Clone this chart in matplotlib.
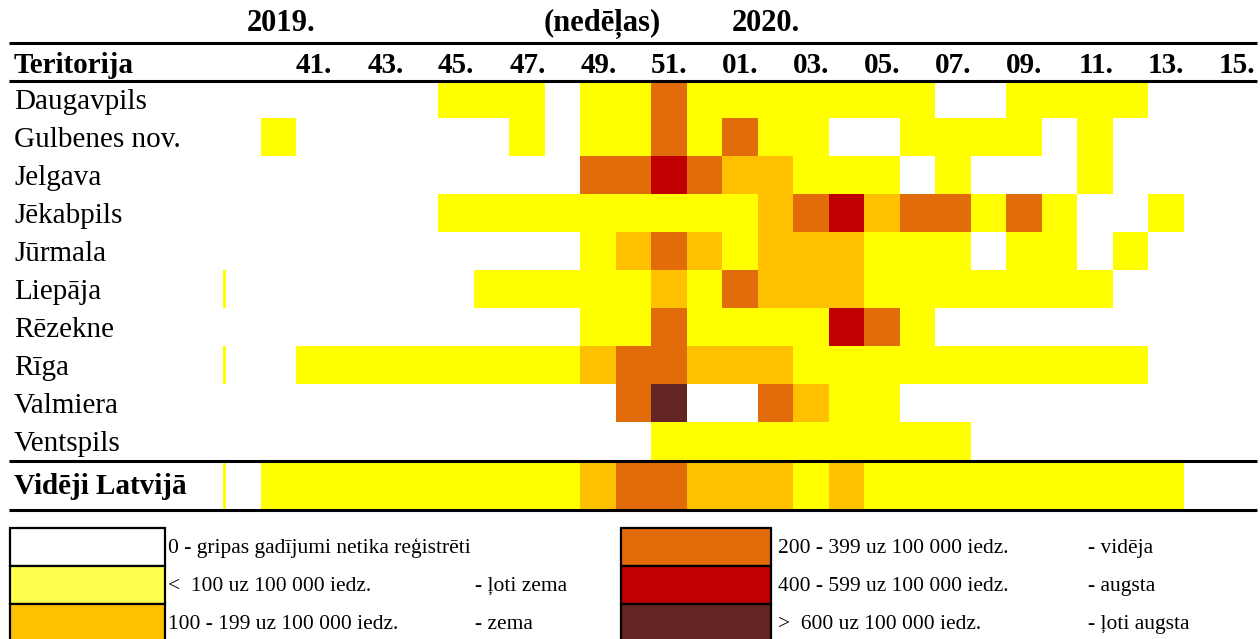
import matplotlib.pyplot as plt
from matplotlib.colors import ListedColormap
from matplotlib.patches import Rectangle
import numpy as np

plt.rcParams['font.family'] = ['Liberation Serif', 'DejaVu Serif']

# weeks: 2019 w39..w52, 2020 w1..w15
weeks = list(range(39, 53)) + list(range(1, 16))
week_labels = ['41.', '43.', '45.', '47.', '49.', '51.', '01.', '03.', '05.',
               '07.', '09.', '11.', '13.', '15.']

territories = ['Daugavpils', 'Gulbenes nov.', 'Jelgava', 'Jēkabpils', 'Jūrmala',
               'Liepāja', 'Rēzekne', 'Rīga', 'Valmiera', 'Ventspils', 'Vidēji Latvijā']

# intensity level per week (0 = none ... 5 = very high)
daugavpils = [0, 0, 0, 0, 0, 0, 1, 1, 1, 0, 1, 1, 3, 1, 1, 1, 1, 1, 1, 1, 0, 0, 1, 1, 1, 1, 0, 0, 0]
gulbenes = [0, 1, 0, 0, 0, 0, 0, 0, 1, 0, 1, 1, 3, 1, 3, 1, 1, 0, 0, 1, 1, 1, 1, 0, 1, 0, 0, 0, 0]
jelgava = [0, 0, 0, 0, 0, 0, 0, 0, 0, 0, 3, 3, 4, 3, 2, 2, 1, 1, 1, 0, 1, 0, 0, 0, 1, 0, 0, 0, 0]
jekabpils = [0, 0, 0, 0, 0, 0, 1, 1, 1, 1, 1, 1, 1, 1, 1, 2, 3, 4, 2, 3, 3, 1, 3, 1, 0, 0, 1, 0, 0]
jurmala = [0, 0, 0, 0, 0, 0, 0, 0, 0, 0, 1, 2, 3, 2, 1, 2, 2, 2, 1, 1, 1, 0, 1, 1, 0, 1, 0, 0, 0]
liepaja = [0, 0, 0, 0, 0, 0, 0, 1, 1, 1, 1, 1, 2, 1, 3, 2, 2, 2, 1, 1, 1, 1, 1, 1, 1, 0, 0, 0, 0]
rezekne = [0, 0, 0, 0, 0, 0, 0, 0, 0, 0, 1, 1, 3, 1, 1, 1, 1, 4, 3, 1, 0, 0, 0, 0, 0, 0, 0, 0, 0]
riga = [0, 0, 1, 1, 1, 1, 1, 1, 1, 1, 2, 3, 3, 2, 2, 2, 1, 1, 1, 1, 1, 1, 1, 1, 1, 1, 0, 0, 0]
valmiera = [0, 0, 0, 0, 0, 0, 0, 0, 0, 0, 0, 3, 5, 0, 0, 3, 2, 1, 1, 0, 0, 0, 0, 0, 0, 0, 0, 0, 0]
ventspils = [0, 0, 0, 0, 0, 0, 0, 0, 0, 0, 0, 0, 1, 1, 1, 1, 1, 1, 1, 1, 1, 0, 0, 0, 0, 0, 0, 0, 0]
videji = [0, 1, 1, 1, 1, 1, 1, 1, 1, 1, 2, 3, 3, 2, 2, 2, 1, 2, 1, 1, 1, 1, 1, 1, 1, 1, 1, 0, 0]

# rows that show the thin yellow edge of the hidden column
sliver_rows = ['Liepāja', 'Rīga', 'Vidēji Latvijā']

level_colors = ['#FFFFFF', '#FFFF00', '#FFC000', '#E36C0A', '#C00000', '#632523']
legend_colors = ['#FFFFFF', '#FFFF50', '#FFC000', '#E36C0A', '#C00000', '#632523']
legend_ranges = ['0 - gripas gadījumi netika reģistrēti', '<  100 uz 100 000 iedz.',
                 '100 - 199 uz 100 000 iedz.', '200 - 399 uz 100 000 iedz.',
                 '400 - 599 uz 100 000 iedz.', '>  600 uz 100 000 iedz.']
legend_levels = ['', '- ļoti zema', '- zema', '- vidēja', '- augsta', '- ļoti augsta']

data = np.array([daugavpils, gulbenes, jelgava, jekabpils, jurmala, liepaja,
                 rezekne, riga, valmiera, ventspils, videji])

fig = plt.figure(figsize=(12.6, 6.39), dpi=100)
ax = fig.add_axes([0, 0, 1, 1])
ax.set_xlim(0, 1260)
ax.set_ylim(639, 0)
ax.axis('off')

# grid geometry in pixels
x0, cw = 225, 35.5
x_edges = x0 + cw * np.arange(len(weeks) + 1)
y_edges = np.array([82, 118, 156, 194, 232, 270, 308, 346, 384, 422, 460, 509])

ax.pcolormesh(x_edges, y_edges, data, cmap=ListedColormap(level_colors),
              vmin=-0.5, vmax=5.5, antialiased=False, edgecolors='none')

for name in sliver_rows:
    i = territories.index(name)
    ax.add_patch(Rectangle((223, y_edges[i]), 3, y_edges[i + 1] - y_edges[i],
                           facecolor='#FFFF00', edgecolor='none'))

# header
ax.text(281, 31, '2019.', fontsize=22, fontweight='bold', ha='center', va='baseline')
ax.text(602, 31, '(nedēļas)', fontsize=22, fontweight='bold', ha='center', va='baseline')
ax.text(766, 31, '2020.', fontsize=22, fontweight='bold', ha='center', va='baseline')
ax.text(14, 73, 'Teritorija', fontsize=21, fontweight='bold', ha='left', va='baseline')
for lab in week_labels:
    w = int(lab[:-1])
    k = weeks.index(w)
    ax.text(x_edges[k + 1] + 1, 73, lab, fontsize=21, fontweight='bold',
            ha='right', va='baseline')

# row labels
for i, name in enumerate(territories):
    yb = y_edges[i + 1] - (15 if i == len(territories) - 1 else 9)
    bold = name == 'Vidēji Latvijā'
    ax.text(14, yb, name, fontsize=21, fontweight='bold' if bold else 'normal',
            ha='left', va='baseline')

# rules
for y in [43, 81, 461, 510]:
    ax.plot([9, 1257], [y, y], color='black', lw=2.2, solid_capstyle='butt')

# legend
ly = [528, 566, 604]
for j in range(6):
    col = j // 3
    row = j % 3
    bx = 10 if col == 0 else 621
    bw = 155 if col == 0 else 150
    ax.add_patch(Rectangle((bx, ly[row]), bw, 38, facecolor=legend_colors[j],
                           edgecolor='black', lw=1.6))
    tx = 168 if col == 0 else 778
    ax.text(tx, ly[row] + 25, legend_ranges[j], fontsize=15.5, ha='left', va='baseline')
    lx = 475 if col == 0 else 1088
    ax.text(lx, ly[row] + 25, legend_levels[j], fontsize=15.5, ha='left', va='baseline')

fig.savefig('out.png', dpi=100)
